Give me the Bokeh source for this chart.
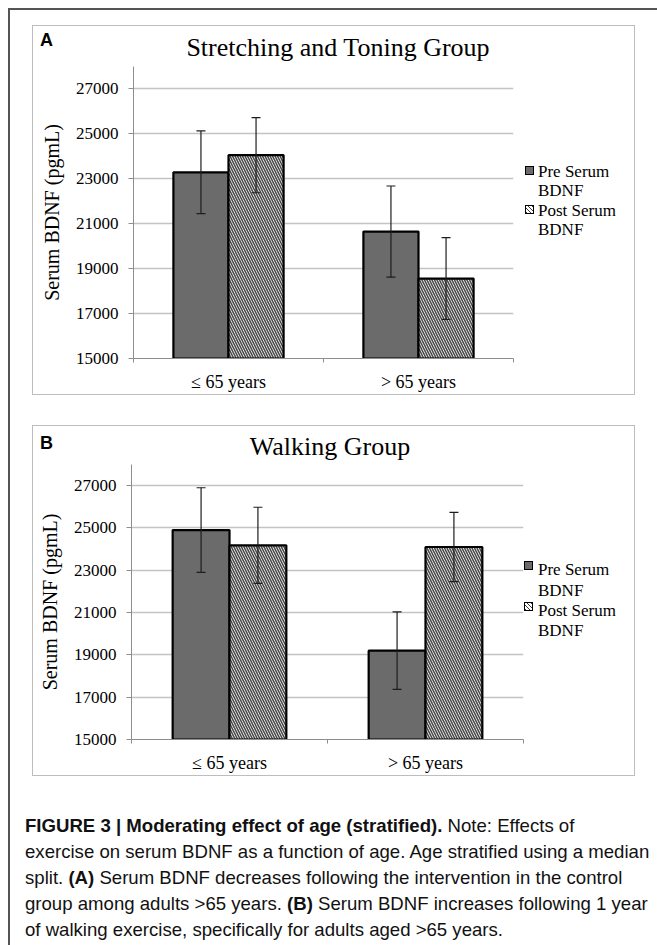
from bokeh.plotting import figure
from bokeh.models import (Range1d, FixedTicker, Whisker, TeeHead, ColumnDataSource, Div)
from bokeh.layouts import column, row
from bokeh.embed import file_html
from bokeh.resources import INLINE

# ---------------- data ----------------
categories = ["≤ 65 years", "> 65 years"]
y_ticks = [15000, 17000, 19000, 21000, 23000, 25000, 27000]
series_labels = [["Pre Serum", "BDNF"], ["Post Serum", "BDNF"]]

stretch_pre = [23290, 20650]
stretch_pre_err = [1840, 2030]
stretch_post = [24050, 18560]
stretch_post_err = [1670, 1820]

walk_pre = [24900, 19200]
walk_pre_err = [2000, 1830]
walk_post = [24180, 24100]
walk_post_err = [1800, 1640]

SERIF = "Liberation Serif"
SANS = "Liberation Sans"
GRID = "#c4c4c4"
AXIS = "#8e8e8e"
PRE_FILL = "#6b6b6b"
HATCH = "#4a4a4a"


def make_header(letter, title, w, h, letter_top, title_cx, title_top):
    html = (
        f'<div style="position:relative; width:{w}px; height:{h}px;">'
        f'<div style="position:absolute; left:7px; top:{letter_top}px; '
        f'font-family:\'{SANS}\'; font-weight:bold; font-size:18px; line-height:22px; color:#000;">{letter}</div>'
        f'<div style="position:absolute; left:0px; width:{2 * title_cx}px; top:{title_top}px; '
        f'text-align:center; white-space:nowrap; font-family:\'{SERIF}\'; font-size:26px; '
        f'line-height:32px; color:#000;">{title}</div>'
        '</div>'
    )
    d = Div(text=html, width=w, height=h)
    d.margin = (0, 0, 0, 0)
    return d


def make_legend(w, h, sw_left, text_left, text_tops, sw_tops):
    sw_styles = [
        f"background:{PRE_FILL};",
        "background:repeating-linear-gradient(45deg, #3c3c3c 0px, #3c3c3c 1px, #ffffff 1px, #ffffff 3px);",
    ]
    parts = [f'<div style="position:relative; width:{w}px; height:{h}px;">']
    k = 0
    for s, lines in enumerate(series_labels):
        parts.append(
            f'<div style="position:absolute; left:{sw_left}px; top:{sw_tops[s]}px; width:9px; height:9px; '
            f'box-sizing:border-box; border:1.5px solid #000; {sw_styles[s]}"></div>')
        for ln in lines:
            parts.append(
                f'<div style="position:absolute; left:{text_left}px; top:{text_tops[k]}px; '
                f'white-space:nowrap; font-family:\'{SERIF}\'; font-size:17px; line-height:16px; '
                f'color:#000;">{ln}</div>')
            k += 1
    parts.append('</div>')
    d = Div(text="".join(parts), width=w, height=h)
    d.margin = (0, 0, 0, 0)
    return d


def make_figure(pre, pre_err, post, post_err, w, h, bl, br, bb):
    p = figure(width=w, height=h, output_backend="svg", toolbar_location=None,
               x_range=Range1d(0, len(categories)), y_range=Range1d(15000, 28000),
               min_border_left=bl, min_border_right=br, min_border_top=0,
               min_border_bottom=bb)
    p.margin = (0, 0, 0, 0)
    p.outline_line_color = None
    p.background_fill_color = "white"
    p.border_fill_color = "white"

    bar_w = 0.29
    centers = [i + 0.5 for i in range(len(categories))]
    pre_x = [c - bar_w / 2 for c in centers]
    post_x = [c + bar_w / 2 for c in centers]

    src_pre = ColumnDataSource(dict(x=pre_x, top=pre,
                                    upper=[v + e for v, e in zip(pre, pre_err)],
                                    lower=[v - e for v, e in zip(pre, pre_err)]))
    src_post = ColumnDataSource(dict(x=post_x, top=post,
                                     upper=[v + e for v, e in zip(post, post_err)],
                                     lower=[v - e for v, e in zip(post, post_err)]))

    p.vbar(x="x", top="top", bottom=15000, width=bar_w, source=src_pre,
           fill_color=PRE_FILL, line_color="black", line_width=2.2)
    p.vbar(x="x", top="top", bottom=15000, width=bar_w, source=src_post,
           fill_color="white", line_color="black", line_width=2.2,
           hatch_pattern="\\", hatch_color=HATCH, hatch_weight=1.6, hatch_scale=5)

    for src in (src_pre, src_post):
        wk = Whisker(source=src, base="x", upper="upper", lower="lower",
                     line_color="#1e1e1e", line_width=1.2, level="overlay",
                     upper_head=TeeHead(size=9, line_color="#1e1e1e", line_width=1.2),
                     lower_head=TeeHead(size=9, line_color="#1e1e1e", line_width=1.2))
        p.add_layout(wk)

    xa = p.xaxis[0]
    xa.ticker = FixedTicker(ticks=centers, minor_ticks=list(range(len(categories) + 1)))
    xa.major_label_overrides = {c: cat for c, cat in zip(centers, categories)}
    xa.major_tick_line_color = None
    xa.major_tick_out = 0
    xa.major_tick_in = 0
    xa.minor_tick_in = 0
    xa.minor_tick_out = 4
    xa.minor_tick_line_color = AXIS
    xa.axis_line_color = AXIS
    xa.major_label_text_font = SERIF
    xa.major_label_text_font_size = "18px"
    xa.major_label_text_color = "black"
    xa.major_label_standoff = 9

    ya = p.yaxis[0]
    ya.ticker = FixedTicker(ticks=y_ticks, minor_ticks=[])
    ya.major_tick_out = 5
    ya.major_tick_in = 0
    ya.major_tick_line_color = AXIS
    ya.minor_tick_line_color = None
    ya.axis_line_color = AXIS
    ya.major_label_text_font = SERIF
    ya.major_label_text_font_size = "17px"
    ya.major_label_text_color = "black"
    ya.major_label_standoff = 10
    ya.axis_label = "Serum BDNF (pgmL)"
    ya.axis_label_text_font = SERIF
    ya.axis_label_text_font_size = "20px"
    ya.axis_label_text_font_style = "normal"
    ya.axis_label_text_color = "black"
    ya.axis_label_standoff = 10

    p.xgrid.grid_line_color = None
    p.ygrid.ticker = FixedTicker(ticks=y_ticks)
    p.ygrid.grid_line_color = GRID
    p.ygrid.grid_line_width = 1.4
    return p


def make_panel(letter, title, pre, pre_err, post, post_err, w, header_h, fig_w, fig_h,
               bl, br, bb, letter_top, title_cx, title_top,
               sw_left, text_left, text_tops, sw_tops, top_margin):
    hd = make_header(letter, title, w, header_h, letter_top, title_cx, title_top)
    fg = make_figure(pre, pre_err, post, post_err, fig_w, fig_h, bl, br, bb)
    lg = make_legend(w - fig_w, fig_h, sw_left, text_left, text_tops, sw_tops)
    body = row(fg, lg, spacing=0, width=w, height=fig_h)
    body.margin = (0, 0, 0, 0)
    panel = column(hd, body, spacing=0, width=w, height=header_h + fig_h)
    panel.margin = (top_margin, 0, 0, 25)
    panel.styles = {"box-shadow": "0 0 0 1px #bdbdbd", "background": "white"}
    return panel


pA = make_panel("A", "Stretching and Toning Group", stretch_pre, stretch_pre_err,
                stretch_post, stretch_post_err, 601, 40, 482, 328, 100, 2, 35,
                3, 305, 6, 10, 23, [97.5, 117, 136.5, 156], [100, 138.5], 18)
pB = make_panel("B", "Walking Group", walk_pre, walk_pre_err, walk_post, walk_post_err,
                601, 38, 491, 311, 98, 1, 36, 6, 297, 5,
                0, 14, [98, 119, 139, 159], [97, 138], 32)

caption_html = (
    '<div style="font-family: \'Liberation Sans\', Arial, sans-serif; font-size: 18.6px; '
    'line-height: 26px; color: #111; white-space: nowrap;">'
    '<b>FIGURE 3 | Moderating effect of age (stratified).</b> Note: Effects of<br>'
    'exercise on serum BDNF as a function of age. Age stratified using a median<br>'
    'split. <b>(A)</b> Serum BDNF decreases following the intervention in the control<br>'
    'group among adults &gt;65 years. <b>(B)</b> Serum BDNF increases following 1 year<br>'
    'of walking exercise, specifically for adults aged &gt;65 years.'
    '</div>'
)
cap = Div(text=caption_html, width=630, height=132)
cap.margin = (38, 0, 0, 17)

layout = column(pA, pB, cap, spacing=0, width=649, height=937)
layout.margin = (8, 0, 0, 8)
layout.styles = {"box-shadow": "inset 2px 2px 0 #555555"}

open("out.html", "w").write(file_html(layout, INLINE))
